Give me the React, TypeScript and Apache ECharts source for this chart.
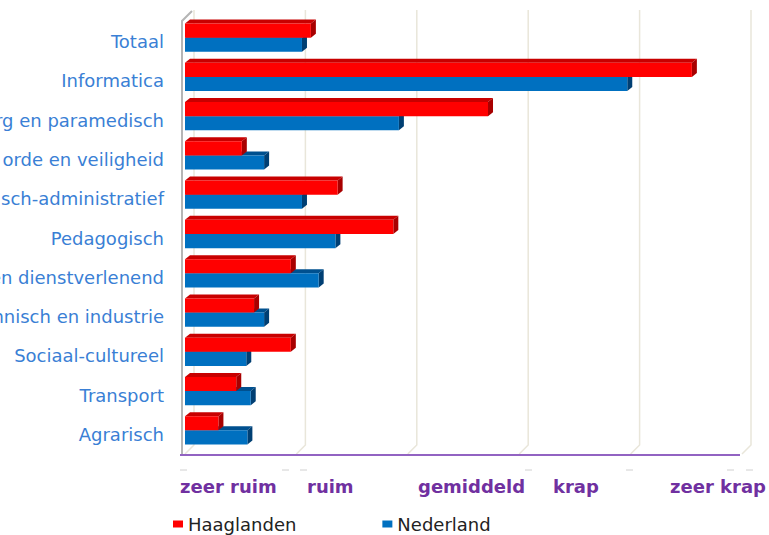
import React, { useEffect, useRef } from "react";
import * as echarts from "echarts";

const categories = [
  "Totaal",
  "Informatica",
  "Zorg en paramedisch",
  "Openbare orde en veiligheid",
  "Economisch-administratief",
  "Pedagogisch",
  "Commercieel en dienstverlenend",
  "Technisch en industrie",
  "Sociaal-cultureel",
  "Transport",
  "Agrarisch",
];
const haaglanden = [1.13, 4.55, 2.72, 0.51, 1.37, 1.87, 0.95, 0.62, 0.95, 0.46, 0.3];
const nederland = [1.05, 3.97, 1.92, 0.71, 1.05, 1.35, 1.2, 0.71, 0.55, 0.59, 0.56];
const scaleLabels = ["zeer ruim", "ruim", "gemiddeld", "krap", "zeer krap"];
const tickValues = [0, 1, 2, 3, 4, 5];

// layout: pixel left edges of the scale texts and of the faint dash marks
const scaleLabelX = [180, 307, 418, 553, 670];
const dashX = [180, 282, 300, 525, 626, 727, 746];

const DX = 5;
const DY = 4;

function makeBar(upper: boolean, front: string, top: string, side: string) {
  return (params: any, api: any) => {
    const cat = api.value(0);
    const val = api.value(1);
    const p0 = api.coord([0, cat]);
    const p1 = api.coord([val, cat]);
    const band = api.size([0, 1])[1];
    const h = band * 0.36;
    const yc = p0[1] - 4;
    const yt = upper ? yc - h : yc;
    const yb = yt + h;
    const x0 = p0[0];
    const x1 = p1[0];
    return {
      type: "group",
      children: [
        {
          type: "polygon",
          shape: { points: [[x0, yt], [x0 + DX, yt - DY], [x1 + DX, yt - DY], [x1, yt]] },
          style: { fill: top },
        },
        {
          type: "polygon",
          shape: { points: [[x1, yt], [x1 + DX, yt - DY], [x1 + DX, yb - DY], [x1, yb]] },
          style: { fill: side },
        },
        {
          type: "rect",
          shape: { x: x0, y: yt, width: x1 - x0, height: h },
          style: { fill: front },
        },
      ],
    };
  };
}

export default function App() {
  const ref = useRef<HTMLDivElement>(null);
  useEffect(() => {
    if (!ref.current) return;
    const chart = echarts.init(ref.current, null, { renderer: "svg" });
    const option: any = {
      animation: false,
      backgroundColor: "#ffffff",
      grid: {
        left: 185,
        right: 27,
        top: 22,
        bottom: 81,
        containLabel: false,
        outerBoundsMode: "none",
      },
      xAxis: {
        type: "value",
        min: 0,
        max: 5,
        interval: 1,
        axisLine: { show: false },
        axisTick: { show: false },
        axisLabel: { show: false },
        splitLine: { show: false },
      },
      yAxis: {
        type: "category",
        inverse: true,
        data: categories,
        axisLine: { show: false },
        axisTick: { show: false },
        axisLabel: {
          margin: 21,
          color: "#3a7fd5",
          fontSize: 18,
          fontFamily: "DejaVu Sans",
        },
      },
      legend: {
        data: ["Haaglanden", "Nederland"],
        left: 173,
        top: 515,
        padding: 0,
        icon: "rect",
        itemWidth: 10,
        itemHeight: 7,
        itemGap: 86,
        textStyle: { fontSize: 18, color: "#222222", fontFamily: "DejaVu Sans" },
      },
      series: [
        {
          type: "custom",
          name: "grid",
          silent: true,
          data: tickValues,
          encode: { x: 0 },
          renderItem: (params: any, api: any) => {
            const v = api.value(0);
            const p = api.coord([v, 0]);
            const cs = params.coordSys;
            const bottom = cs.y + cs.height;
            return {
              type: "polyline",
              shape: { points: [[p[0] + 9, cs.y - 12], [p[0] + 9, bottom - 9], [p[0], bottom]] },
              style: { stroke: "#e9e6da", lineWidth: 1.5, fill: null },
            };
          },
          z: 1,
        },
        {
          type: "custom",
          name: "Nederland",
          itemStyle: { color: "#0070c0" },
          data: nederland.map((v, i) => [i, v]),
          encode: { x: 1, y: 0 },
          renderItem: makeBar(false, "#0070c0", "#00508f", "#003f73"),
          z: 3,
        },
        {
          type: "custom",
          name: "Haaglanden",
          itemStyle: { color: "#ff0000" },
          data: haaglanden.map((v, i) => [i, v]),
          encode: { x: 1, y: 0 },
          renderItem: makeBar(true, "#ff0000", "#c80000", "#a80000"),
          z: 4,
        },
      ],
      graphic: [
        {
          type: "polyline",
          shape: { points: [[192, 11], [182, 21], [182, 455]] },
          style: { stroke: "#b5b5b5", lineWidth: 2, fill: null },
          z: 5,
        },
        {
          type: "line",
          shape: { x1: 180, y1: 455, x2: 740, y2: 455 },
          style: { stroke: "#9263c2", lineWidth: 2 },
          z: 5,
        },
        ...dashX.map((x) => ({
          type: "line",
          shape: { x1: x, y1: 470, x2: x + 7, y2: 470 },
          style: { stroke: "#d0d0d0", lineWidth: 1 },
          z: 5,
        })),
        ...scaleLabels.map((t, i) => ({
          type: "text",
          x: scaleLabelX[i],
          y: 486,
          style: {
            text: t,
            fill: "#7030a0",
            font: "bold 18px 'DejaVu Sans'",
            textAlign: "left",
            textVerticalAlign: "middle",
          },
          z: 5,
        })),
      ],
    };
    chart.setOption(option);
    return () => chart.dispose();
  }, []);
  return (
    <div
      ref={ref}
      style={{ position: "fixed", left: 0, top: 0, width: 769, height: 535 }}
    />
  );
}
